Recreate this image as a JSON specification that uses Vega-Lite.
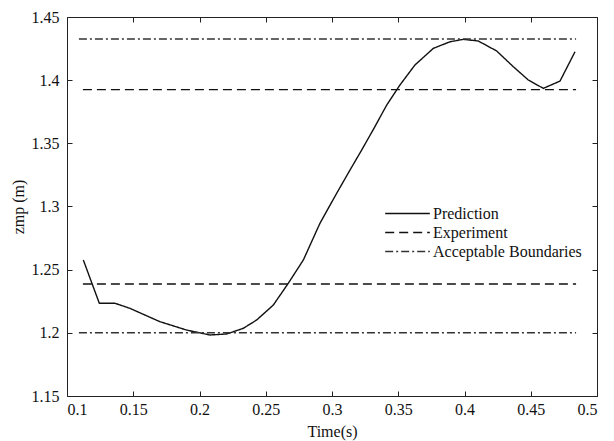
{
  "$schema": "https://vega.github.io/schema/vega-lite/v6.json",
  "width": 530,
  "height": 379,
  "autosize": {"type": "none"},
  "padding": {"left": 67, "top": 17, "right": 17, "bottom": 45},
  "background": "white",
  "config": {
    "view": {"stroke": "#222", "strokeWidth": 1},
    "font": "Liberation Serif",
    "axis": {
      "domain": false,
      "grid": false,
      "tickSize": -5,
      "tickColor": "#222",
      "tickWidth": 1,
      "labelFont": "Liberation Serif",
      "labelFontSize": 16,
      "labelColor": "#111",
      "titleFont": "Liberation Serif",
      "titleFontSize": 16,
      "titleFontWeight": "normal",
      "titleColor": "#111"
    },
    "legend": {
      "labelFont": "Liberation Serif",
      "labelFontSize": 16,
      "labelColor": "#111"
    }
  },
  "data": {
    "values": [
      {"t": 0.1123, "v": 1.2577, "series": "Prediction", "grp": "p"},
      {"t": 0.1244, "v": 1.2234, "series": "Prediction", "grp": "p"},
      {"t": 0.1362, "v": 1.2234, "series": "Prediction", "grp": "p"},
      {"t": 0.1475, "v": 1.2194, "series": "Prediction", "grp": "p"},
      {"t": 0.1590, "v": 1.2140, "series": "Prediction", "grp": "p"},
      {"t": 0.1702, "v": 1.2088, "series": "Prediction", "grp": "p"},
      {"t": 0.1903, "v": 1.2022, "series": "Prediction", "grp": "p"},
      {"t": 0.2079, "v": 1.1983, "series": "Prediction", "grp": "p"},
      {"t": 0.2205, "v": 1.1991, "series": "Prediction", "grp": "p"},
      {"t": 0.2331, "v": 1.2036, "series": "Prediction", "grp": "p"},
      {"t": 0.2432, "v": 1.2102, "series": "Prediction", "grp": "p"},
      {"t": 0.2557, "v": 1.2220, "series": "Prediction", "grp": "p"},
      {"t": 0.2670, "v": 1.2392, "series": "Prediction", "grp": "p"},
      {"t": 0.2784, "v": 1.2577, "series": "Prediction", "grp": "p"},
      {"t": 0.2909, "v": 1.2867, "series": "Prediction", "grp": "p"},
      {"t": 0.3035, "v": 1.3104, "series": "Prediction", "grp": "p"},
      {"t": 0.3136, "v": 1.3289, "series": "Prediction", "grp": "p"},
      {"t": 0.3224, "v": 1.3447, "series": "Prediction", "grp": "p"},
      {"t": 0.3320, "v": 1.3625, "series": "Prediction", "grp": "p"},
      {"t": 0.3413, "v": 1.3803, "series": "Prediction", "grp": "p"},
      {"t": 0.3513, "v": 1.3962, "series": "Prediction", "grp": "p"},
      {"t": 0.3626, "v": 1.4120, "series": "Prediction", "grp": "p"},
      {"t": 0.3765, "v": 1.4252, "series": "Prediction", "grp": "p"},
      {"t": 0.3891, "v": 1.4304, "series": "Prediction", "grp": "p"},
      {"t": 0.3991, "v": 1.4323, "series": "Prediction", "grp": "p"},
      {"t": 0.4104, "v": 1.4310, "series": "Prediction", "grp": "p"},
      {"t": 0.4243, "v": 1.4231, "series": "Prediction", "grp": "p"},
      {"t": 0.4368, "v": 1.4107, "series": "Prediction", "grp": "p"},
      {"t": 0.4482, "v": 1.4001, "series": "Prediction", "grp": "p"},
      {"t": 0.4595, "v": 1.3935, "series": "Prediction", "grp": "p"},
      {"t": 0.4721, "v": 1.3993, "series": "Prediction", "grp": "p"},
      {"t": 0.4834, "v": 1.4225, "series": "Prediction", "grp": "p"},
      {"t": 0.112, "v": 1.2387, "series": "Experiment", "grp": "e1"},
      {"t": 0.4842, "v": 1.2387, "series": "Experiment", "grp": "e1"},
      {"t": 0.112, "v": 1.3925, "series": "Experiment", "grp": "e2"},
      {"t": 0.4842, "v": 1.3925, "series": "Experiment", "grp": "e2"},
      {"t": 0.109, "v": 1.2, "series": "Acceptable Boundaries", "grp": "b1"},
      {"t": 0.4842, "v": 1.2, "series": "Acceptable Boundaries", "grp": "b1"},
      {"t": 0.109, "v": 1.4326, "series": "Acceptable Boundaries", "grp": "b2"},
      {"t": 0.4842, "v": 1.4326, "series": "Acceptable Boundaries", "grp": "b2"}
    ]
  },
  "layer": [
    {
      "mark": {"type": "line"},
      "encoding": {
        "x": {
          "field": "t", "type": "quantitative",
          "scale": {"domain": [0.1, 0.5], "nice": false, "zero": false},
          "axis": {"orient": "bottom", "title": "Time(s)", "values": [0.1, 0.15, 0.2, 0.25, 0.3, 0.35, 0.4, 0.45, 0.5], "format": "~g", "labelPadding": 10, "titlePadding": 6}
        },
        "y": {
          "field": "v", "type": "quantitative",
          "scale": {"domain": [1.15, 1.45], "nice": false, "zero": false},
          "axis": {"orient": "left", "title": "zmp (m)", "values": [1.15, 1.2, 1.25, 1.3, 1.35, 1.4, 1.45], "format": "~g", "labelPadding": 13, "titlePadding": 5}
        },
        "detail": {"field": "grp"},
        "color": {
          "field": "series", "type": "nominal",
          "scale": {"domain": ["Prediction", "Experiment", "Acceptable Boundaries"], "range": ["#111", "#111", "#333"]},
          "legend": {"title": null, "orient": "none", "legendX": 330, "legendY": 186, "symbolType": "M-2.35,0H2.35", "symbolSize": 361, "symbolStrokeWidth": 1.3, "symbolFillColor": "transparent", "rowPadding": 0, "labelOffset": 15}
        },
        "strokeDash": {
          "field": "series", "type": "nominal",
          "scale": {"domain": ["Prediction", "Experiment", "Acceptable Boundaries"], "range": [[1, 0], [9, 5], [8, 3, 2, 3]]},
          "legend": {"title": null, "orient": "none", "legendX": 330, "legendY": 186, "symbolType": "M-2.35,0H2.35", "symbolSize": 361, "symbolStrokeWidth": 1.3, "symbolFillColor": "transparent", "rowPadding": 0, "labelOffset": 15}
        },
        "strokeWidth": {
          "field": "series", "type": "nominal",
          "scale": {"domain": ["Prediction", "Experiment", "Acceptable Boundaries"], "range": [1.4, 1.5, 1]},
          "legend": null
        }
      }
    },
    {
      "mark": {"type": "line", "opacity": 0},
      "encoding": {
        "x": {
          "field": "t", "type": "quantitative",
          "scale": {"domain": [0.1, 0.5], "nice": false, "zero": false},
          "axis": {"orient": "top", "title": null, "labels": false, "values": [0.1, 0.15, 0.2, 0.25, 0.3, 0.35, 0.4, 0.45, 0.5]}
        },
        "y": {
          "field": "v", "type": "quantitative",
          "scale": {"domain": [1.15, 1.45], "nice": false, "zero": false},
          "axis": {"orient": "right", "title": null, "labels": false, "values": [1.15, 1.2, 1.25, 1.3, 1.35, 1.4, 1.45]}
        },
        "detail": {"field": "grp"}
      }
    }
  ],
  "resolve": {"axis": {"x": "independent", "y": "independent"}}
}
